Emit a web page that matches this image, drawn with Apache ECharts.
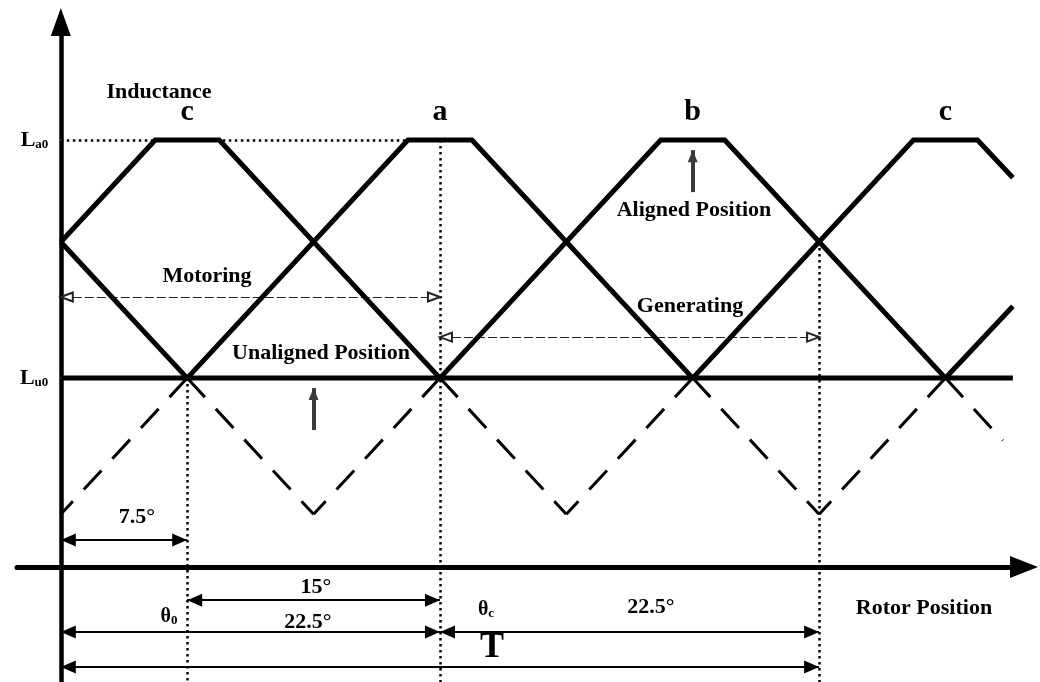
<!DOCTYPE html>
<html>
<head>
<meta charset="utf-8">
<script src="https://cdn.jsdelivr.net/npm/echarts@6/dist/echarts.min.js"></script>
<style>
  html, body { margin: 0; padding: 0; background: #fff; }
  #chart { width: 1040px; height: 682px; }
</style>
</head>
<body>
<div id="chart"></div>
<script>
// Switched reluctance machine: phase inductance profiles against rotor position (degrees)

// inductance levels (per unit of the unaligned value)
const Lu0 = 1.0;
const La0 = 2.26;
const yTickValues = [Lu0, La0];
const yTickSubs = ['u0', 'a0'];

// phase letters and the rotor angle of each aligned plateau centre
const phaseNames = ['c', 'a', 'b', 'c'];
const phaseCentres = [7.5, 22.5, 37.5, 52.5];

// solid parts of the phase inductance curves, [angle, L]
const solidC1 = [[0, 1.72], [5.6, 2.26], [9.4, 2.26], [22.5, 1.0]];
const solidA1 = [[7.5, 1.0], [20.6, 2.26], [24.4, 2.26], [37.5, 1.0]];
const solidB1 = [[0, 1.72], [7.5, 1.0]];
const solidB2 = [[22.5, 1.0], [35.6, 2.26], [39.4, 2.26], [52.5, 1.0]];
const solidC2 = [[37.5, 1.0], [50.6, 2.26], [54.4, 2.26], [56.5, 2.06]];
const solidA2 = [[52.5, 1.0], [56.5, 1.38]];
const unalignedLevel = [[0, 1.0], [56.5, 1.0]];

// ramps continued below Lu0 (dashed), each arm starting at its crossing
const dashedArms = [
  [[7.5, 1.0], [0, 0.28]],
  [[7.5, 1.0], [15, 0.28]],
  [[22.5, 1.0], [15, 0.28]],
  [[22.5, 1.0], [30, 0.28]],
  [[37.5, 1.0], [30, 0.28]],
  [[37.5, 1.0], [45, 0.28]],
  [[52.5, 1.0], [45, 0.28]],
  [[52.5, 1.0], [55.9, 0.67]]
];

// key angles
const theta0 = 7.5;        // turn-on angle
const thetaC = 22.5;       // commutation angle
const period = 45;         // T
const plateauStartA = 20.6;
const crossAtPeriod = 1.72; // L where phases b and c cross at T
const unalignedAt = 15;
const alignedAt = 37.5;
const unalignedArrow = [0.725, 0.947];
const alignedArrow = [1.984, 2.206];

// ---- layout ----
const yMin = -0.608, yMax = 2.884;
const xMin = -2.6, xMax = 57.16;
const rowSmall = 0.143;     // 7.5° dimension
const rowStroke = -0.175;   // 15° dimension
const rowHalf = -0.344;     // 22.5° dimensions
const rowPeriod = -0.529;   // T dimension
const rowMotoring = 1.429;
const rowGenerating = 1.217;

const FONT = '"Liberation Serif", "Times New Roman", serif';

function solid(data) {
  return {
    type: 'line', data, symbol: 'none', silent: true, animation: false,
    lineStyle: { color: '#000', width: 5, join: 'miter', cap: 'butt' }, z: 5
  };
}
function dashed(data) {
  return {
    type: 'line', data, symbol: 'none', silent: true, animation: false,
    lineStyle: { color: '#000', width: 3, type: [26, 16], cap: 'butt' }, z: 4
  };
}
function marks(segments, lineStyle, symbol, symbolSize) {
  const sz = symbolSize || [0, 0];
  return {
    type: 'line', data: [], silent: true, animation: false,
    markLine: {
      silent: true, animation: false,
      symbol: symbol || ['none', 'none'],
      symbolSize: sz,
      symbolOffset: [[0, sz[1] / 2], [0, sz[1] / 2]],
      label: { show: false },
      lineStyle: lineStyle,
      emphasis: { disabled: true },
      data: segments.map(s => [{ coord: s[0] }, { coord: s[1] }])
    }
  };
}
// invisible anchor points that only carry text labels (kept beneath the curves)
function labelAnchors(data, label) {
  return {
    type: 'scatter', silent: true, animation: false,
    symbolSize: 1, itemStyle: { color: '#fff', opacity: 1 },
    data, label: Object.assign({ show: true, color: '#000' }, label), z: 1
  };
}

const dimStyle = { color: '#000', width: 2, type: 'solid' };
const series = [
  solid(unalignedLevel),
  solid(solidC1), solid(solidA1), solid(solidB1),
  solid(solidB2), solid(solidC2), solid(solidA2),
  ...dashedArms.map(dashed),
  // dotted guides
  marks([
    [[0, La0], [plateauStartA, La0]],
    [[theta0, Lu0], [theta0, yMin]],
    [[thetaC, La0], [thetaC, yMin]],
    [[period, crossAtPeriod], [period, yMin]]
  ], { color: '#000', width: 2.5, type: [2.5, 3.5] }),
  // dimension arrows
  marks([
    [[0, rowSmall], [theta0, rowSmall]],
    [[theta0, rowStroke], [thetaC, rowStroke]],
    [[0, rowHalf], [thetaC, rowHalf]],
    [[thetaC, rowHalf], [period, rowHalf]],
    [[0, rowPeriod], [period, rowPeriod]]
  ], dimStyle, ['triangle', 'triangle'], [13, 15]),
  // operating regions
  marks([
    [[0, rowMotoring], [thetaC, rowMotoring]],
    [[thetaC, rowGenerating], [period, rowGenerating]]
  ], { color: '#222', width: 1.2, type: [9, 3] }, ['emptyTriangle', 'emptyTriangle'], [9, 12]),
  // aligned / unaligned pointers
  marks([
    [[unalignedAt, unalignedArrow[0]], [unalignedAt, unalignedArrow[1]]],
    [[alignedAt, alignedArrow[0]], [alignedAt, alignedArrow[1]]]
  ], { color: '#3a3a3a', width: 4, type: 'solid' }, ['none', 'triangle'], [10, 12]),
  // phase letters above the aligned plateaus
  labelAnchors(
    phaseCentres.map((c, i) => ({ value: [c, La0], name: phaseNames[i] })),
    {
      position: 'top', distance: 12, formatter: '{b}',
      fontFamily: FONT, fontWeight: 'bold', fontSize: 30
    }
  ),
  // inductance level names beside the vertical axis
  labelAnchors(
    yTickValues.map((v, i) => ({ value: [0, v], name: yTickSubs[i] })),
    {
      position: 'left', distance: 12,
      formatter: p => '{L|L}{s|' + p.name + '}',
      rich: {
        L: { fontFamily: FONT, fontWeight: 'bold', fontSize: 22, color: '#000', verticalAlign: 'bottom' },
        s: { fontFamily: FONT, fontWeight: 'bold', fontSize: 13, color: '#000', verticalAlign: 'bottom' }
      }
    }
  )
];

function text(x, y, str, size) {
  return {
    type: 'text', x, y, silent: true,
    style: {
      text: str, fontFamily: FONT, fontWeight: 'bold', fontSize: size || 22,
      fill: '#000', align: 'center', verticalAlign: 'middle'
    }
  };
}
function subText(x, y, main, sub) {
  return {
    type: 'text', x, y, silent: true,
    style: {
      text: '{m|' + main + '}{s|' + sub + '}', align: 'center', verticalAlign: 'middle',
      rich: {
        m: { fontFamily: FONT, fontWeight: 'bold', fontSize: 20, fill: '#000', verticalAlign: 'bottom' },
        s: { fontFamily: FONT, fontWeight: 'bold', fontSize: 13, fill: '#000', verticalAlign: 'bottom' }
      }
    }
  };
}

const graphic = [
  text(159, 92, 'Inductance'),
  text(694, 210, 'Aligned Position'),
  text(321, 353, 'Unaligned Position'),
  text(207, 276, 'Motoring'),
  text(690, 306, 'Generating'),
  text(924, 608, 'Rotor Position'),
  text(137, 517, '7.5°'),
  text(316, 587, '15°'),
  text(308, 622, '22.5°'),
  text(651, 607, '22.5°'),
  text(492, 648, 'T', 36),
  subText(169, 617, 'θ', '0'),
  subText(486, 610, 'θ', 'c')
];

const chart = echarts.init(document.getElementById('chart'), null, { renderer: 'canvas' });
chart.setOption({
  animation: false,
  backgroundColor: '#fff',
  grid: { left: 17, right: 16, top: 22, bottom: 0, containLabel: false, outerBoundsMode: 'none' },
  xAxis: {
    type: 'value', min: xMin, max: xMax,
    axisLine: {
      onZero: true, symbol: ['none', 'triangle'], symbolSize: [22, 28],
      lineStyle: { color: '#000', width: 5 }
    },
    axisTick: { show: false }, axisLabel: { show: false }, splitLine: { show: false }
  },
  yAxis: {
    type: 'value', min: yMin, max: yMax,
    axisLine: {
      onZero: true, symbol: ['none', 'triangle'], symbolSize: [20, 28],
      lineStyle: { color: '#000', width: 4.5 }
    },
    axisTick: { show: false }, axisLabel: { show: false }, splitLine: { show: false }
  },
  series,
  graphic
});
</script>
</body>
</html>
